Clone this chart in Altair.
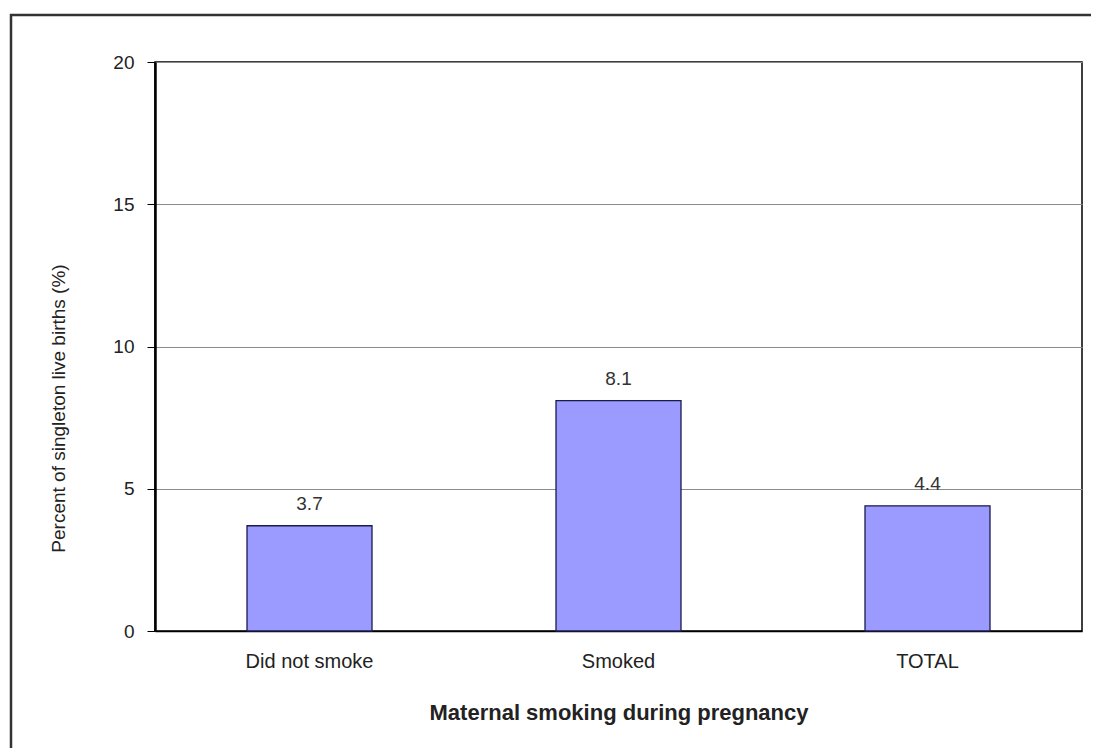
import altair as alt
import pandas as pd

categories = ["Did not smoke", "Smoked", "TOTAL"]
values = [3.7, 8.1, 4.4]
y_ticks = [0, 5, 10, 15, 20]

data = pd.DataFrame({"cat": categories, "val": values})
FONT = "Liberation Sans"

x_enc = alt.X(
    "cat:N",
    sort=categories,
    scale=alt.Scale(paddingInner=0, paddingOuter=0),
    axis=alt.Axis(
        title="Maternal smoking during pregnancy",
        titleFontSize=22,
        titleFontWeight="bold",
        titleFont=FONT,
        titleColor="#222222",
        titleBaseline="middle",
        titleY=81,
        labelAngle=0,
        labelFontSize=20,
        labelFont=FONT,
        labelColor="#222222",
        labelPadding=20,
        labelBaseline="top",
        ticks=False,
        domainColor="black",
        domainWidth=1.5,
    ),
)
y_enc = alt.Y(
    "val:Q",
    scale=alt.Scale(domain=[0, 20], nice=False),
    axis=alt.Axis(
        title="Percent of singleton live births (%)",
        titleFontSize=19,
        titleFontWeight="normal",
        titleFont=FONT,
        titleColor="#222222",
        titleAngle=270,
        titleAlign="center",
        titleBaseline="middle",
        titleX=-97,
        titleY=346,
        values=y_ticks,
        labelFontSize=19,
        labelFont=FONT,
        labelColor="#222222",
        labelPadding=13,
        tickSize=8,
        tickColor="black",
        tickWidth=1,
        grid=True,
        gridColor="#8a8a8a",
        gridWidth=1,
        domainColor="black",
        domainWidth=2.5,
    ),
)

base = alt.Chart(data)
bars = base.mark_bar(size=125, color="#9a9aff", stroke="#1a1a4d", strokeWidth=1.3).encode(x=x_enc, y=y_enc)
labels = base.mark_text(dy=-22, fontSize=19, font=FONT, color="#333333").encode(
    x=alt.X("cat:N", sort=categories),
    y=alt.Y("val:Q"),
    text=alt.Text("val:Q", format=".1f"),
)
frame = alt.Chart(pd.DataFrame({"f": [0]})).mark_rect(
    fill=None, stroke="#333333", strokeWidth=2.5, clip=False
).encode(
    x=alt.value(-144), x2=alt.value(990), y=alt.value(-47), y2=alt.value(720)
)

chart = (
    alt.layer(bars, labels, frame)
    .properties(
        width=927,
        height=569,
        padding={"left": 147, "top": 54, "right": 9, "bottom": 117},
        autosize=alt.AutoSizeParams(type="none"),
        background="white",
    )
    .configure_view(stroke="black", strokeWidth=1.5)
)

chart.save("out.html", embed_options={"renderer": "svg", "actions": False})
